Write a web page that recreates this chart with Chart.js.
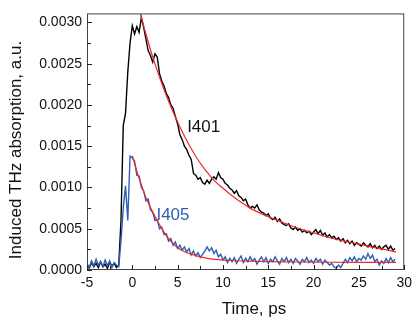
<!DOCTYPE html>
<html>
<head>
<meta charset="utf-8">
<script src="https://cdn.jsdelivr.net/npm/chart.js@4.4.1/dist/chart.umd.min.js"></script>
<style>
  body { margin: 0; background: #fff; }
  canvas { display: block; }
</style>
</head>
<body>
<canvas id="chart" width="417" height="320"></canvas>
<script>
// Measured traces, sampled every 0.25 ps from -5 ps (values in units of 1e-4)
const tStart = -5;
const tStep = 0.25;

const i401 = [
  0.6, 0.2, 0.9, 0.4,
  0.8, 0.3, 1.0, 0.4,
  0.7, 0.2, 0.9, 0.5,
  0.8, 0.3, 0.6, 6.0,
  17.5, 19.0, 24.0, 27.5,
  29.6, 28.6, 29.5, 28.8,
  30.6, 29.4, 28.0, 26.6,
  26.0, 25.2, 26.2, 25.8,
  23.8, 22.9, 22.3, 21.4,
  20.9, 20.0, 19.6, 18.6,
  17.7, 16.4, 15.8, 15.0,
  14.6, 13.9, 13.4, 11.7,
  11.5, 11.0, 11.2, 10.6,
  10.4, 10.9, 10.5, 11.0,
  11.3, 11.0, 11.8, 11.2,
  11.0, 10.5, 10.3, 9.9,
  9.7, 9.3, 9.6, 9.0,
  8.8, 8.4, 8.6, 7.9,
  7.5, 7.7, 7.5, 7.9,
  7.3, 7.0, 6.9, 6.6,
  6.8, 6.3, 6.1, 6.4,
  5.9, 6.2, 5.7, 5.5,
  5.4, 5.6, 5.1, 4.9,
  5.2, 4.8, 5.0, 4.6,
  4.8, 4.5, 4.7, 4.3,
  4.6, 4.9, 4.4, 4.8,
  4.2, 4.5, 4.0, 4.3,
  3.9, 4.1, 3.7, 3.9,
  3.5, 3.8, 3.3, 3.6,
  3.2, 3.5, 3.0, 3.3,
  3.1, 2.9, 3.3, 3.0,
  2.8, 3.2, 2.7, 3.0,
  2.6, 2.9, 2.5, 2.8,
  3.0, 2.5, 2.9, 2.4,
  2.6
];

const i405 = [
  0.8, 0.3, 1.1, 0.5,
  1.3, 0.6, 1.0, 0.4,
  1.2, 0.5, 1.1, 0.3,
  0.9, 0.6, 0.4, 3.5,
  7.5, 10.2, 6.0, 13.8,
  13.6, 13.2, 11.5, 11.4,
  10.0, 9.6, 8.4, 8.6,
  7.3, 7.0, 6.0, 6.1,
  5.0, 5.2, 4.3, 4.4,
  3.5, 3.8, 3.0, 3.4,
  2.6, 3.0, 2.4, 2.8,
  2.2, 2.6, 1.8, 2.3,
  1.7, 2.1, 1.5, 1.9,
  2.3, 2.8, 2.3, 2.7,
  2.0, 2.4, 1.6, 1.9,
  1.2, 1.6, 0.9, 1.4,
  1.0, 1.5, 0.8, 1.3,
  1.7, 0.9, 1.4, 1.0,
  1.6, 1.1, 1.4, 0.7,
  1.2, 1.6, 1.0, 1.5,
  0.8, 1.3, 1.0, 1.6,
  1.1, 0.7, 1.4, 1.0,
  1.5, 0.9, 1.3, 0.8,
  1.4, 1.1, 0.7, 1.3,
  1.0, 1.5, 0.9, 1.2,
  0.8, 1.4, 1.0, 1.3,
  0.7, 1.2, 0.9, 0.6,
  0.8, 0.4, 0.2, 0.6,
  0.3, 0.8, 1.3, 0.9,
  1.5, 1.1, 1.6, 1.0,
  1.4, 1.2, 1.7, 1.3,
  2.0, 1.4, 1.8, 1.0,
  1.3, 0.6, 1.1, 0.8,
  1.4, 0.9, 1.5, 1.0,
  1.3
];

// Fitted decay curves (red)
const fitI401Time = [0.9, 1.5, 2.2, 3.0, 3.8, 4.6, 5.4, 6.2, 7.1, 8.0, 9.0, 10.0, 11.0, 12.0,
  13.0, 14.3, 15.6, 17.0, 18.5, 20.0, 21.5, 23.0, 24.5, 26.0, 27.5, 29.1];
const fitI401 = [31.0, 28.6, 26.0, 23.4, 21.0, 18.9, 17.0, 15.3, 13.6, 12.2, 10.9, 9.9, 9.0, 8.2,
  7.5, 6.8, 6.2, 5.6, 5.0, 4.5, 4.0, 3.6, 3.25, 2.9, 2.55, 2.2];

const fitI405Time = [0, 0.3, 0.6, 1.0, 1.35, 1.7, 2.1, 2.5, 2.9, 3.4, 3.9, 4.5, 5.0, 5.7, 6.4,
  7.3, 8.3, 9.5, 11, 13, 15, 18, 22, 26, 29.1];
const fitI405 = [13.85, 12.7, 11.6, 10.3, 9.2, 8.3, 7.35, 6.5, 5.7, 4.75, 3.95, 3.2, 2.7, 2.25, 1.95,
  1.65, 1.42, 1.26, 1.15, 1.07, 1.02, 0.97, 0.94, 0.93, 0.92];

const xTicks = [-5, 0, 5, 10, 15, 20, 25, 30];
const yTicks = [0, 5, 10, 15, 20, 25, 30];

const FONT = "'Liberation Sans', Arial, sans-serif";
const BLUE = "#2c5fb3";
const RED = "#f0282a";

function sampled(values) {
  return values.map((v, k) => ({ x: tStart + k * tStep, y: v }));
}
function paired(times, values) {
  return times.map((t, k) => ({ x: t, y: values[k] }));
}

// Frame, inward ticks, axis titles and curve labels
const decorations = {
  id: "decorations",
  afterDraw(chart) {
    const { ctx, chartArea: a, scales } = chart;
    const xs = scales.x, ys = scales.y;
    ctx.save();
    ctx.strokeStyle = "#444";
    ctx.lineWidth = 1;
    ctx.strokeRect(a.left + 0.5, a.top + 0.5, a.right - a.left - 1, a.bottom - a.top - 1);

    ctx.strokeStyle = "#222";
    ctx.beginPath();
    for (let v = -5; v <= 30; v += 2.5) {
      const px = Math.round(xs.getPixelForValue(v)) + 0.5;
      const len = v % 5 === 0 ? 5 : 4;
      ctx.moveTo(px, a.bottom);
      ctx.lineTo(px, a.bottom - len);
    }
    for (let v = 0; v <= 30; v += 2.5) {
      const py = Math.round(ys.getPixelForValue(v)) + 0.5;
      const len = v % 5 === 0 ? 5 : 4;
      ctx.moveTo(a.left, py);
      ctx.lineTo(a.left + len, py);
    }
    ctx.stroke();

    ctx.fillStyle = "#111";
    ctx.font = "17px " + FONT;
    ctx.textAlign = "center";
    ctx.textBaseline = "middle";
    ctx.fillText("Time, ps", 254, 309);
    ctx.save();
    ctx.translate(16, 150);
    ctx.rotate(-Math.PI / 2);
    ctx.fillText("Induced THz absorption, a.u.", 0, 0);
    ctx.restore();

    ctx.font = "17px " + FONT;
    ctx.textAlign = "left";
    ctx.fillStyle = "#111";
    ctx.fillText("I401", xs.getPixelForValue(6.05), ys.getPixelForValue(17.3));
    ctx.fillStyle = BLUE;
    ctx.fillText("I405", xs.getPixelForValue(2.66), ys.getPixelForValue(6.6));
    ctx.restore();
  },
};

new Chart(document.getElementById("chart"), {
  type: "line",
  data: {
    datasets: [
      { label: "I401 fit", data: paired(fitI401Time, fitI401), borderColor: RED, borderWidth: 1.2,
        cubicInterpolationMode: "monotone", order: 0 },
      { label: "I405 fit", data: paired(fitI405Time, fitI405), borderColor: RED, borderWidth: 1.2,
        cubicInterpolationMode: "monotone", order: 0 },
      { label: "I401", data: sampled(i401), borderColor: "#000", borderWidth: 1.4, order: 2 },
      { label: "I405", data: sampled(i405), borderColor: BLUE, borderWidth: 1.4, order: 1 },
    ],
  },
  options: {
    responsive: false,
    animation: false,
    devicePixelRatio: 1,
    elements: { point: { radius: 0 }, line: { tension: 0 } },
    layout: { padding: { left: 0, right: 8, top: 5, bottom: 0 } },
    plugins: { legend: { display: false }, tooltip: { enabled: false } },
    scales: {
      x: {
        type: "linear",
        min: -5,
        max: 30,
        afterFit: (s) => { s.height = 50; },
        afterBuildTicks: (s) => { s.ticks = xTicks.map((v) => ({ value: v })); },
        grid: { display: false, drawTicks: false },
        border: { display: false },
        ticks: { color: "#111", font: { family: FONT, size: 14 }, padding: 5, maxRotation: 0 },
      },
      y: {
        type: "linear",
        min: 0,
        max: 31.1,
        afterFit: (s) => { s.width = 87; },
        afterBuildTicks: (s) => { s.ticks = yTicks.map((v) => ({ value: v })); },
        grid: { display: false, drawTicks: false },
        border: { display: false },
        ticks: {
          color: "#111",
          font: { family: FONT, size: 14 },
          padding: 5,
          callback: (v) => (v / 10000).toFixed(4),
        },
      },
    },
  },
  plugins: [decorations],
});
</script>
</body>
</html>
